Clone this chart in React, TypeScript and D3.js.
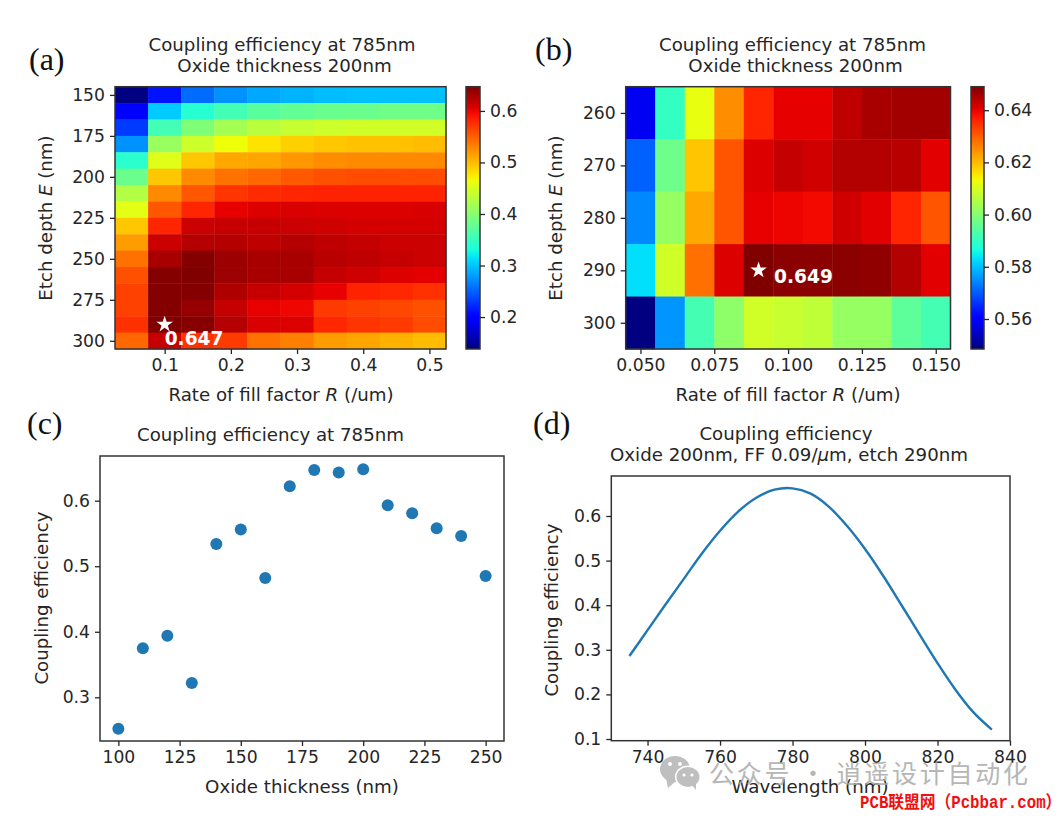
import * as d3 from "d3";
import { useRef, useEffect } from "react";

// (a) coarse sweep
const fillA = [0.05, 0.1, 0.15, 0.2, 0.25, 0.3, 0.35, 0.4, 0.45, 0.5];
const etchA = [150, 160, 170, 180, 190, 200, 210, 220, 230, 240, 250, 260, 270, 280, 290, 300];
const effA = [
  [0.138, 0.21, 0.255, 0.275, 0.286, 0.291, 0.296, 0.298, 0.298, 0.298],
  [0.194, 0.303, 0.339, 0.357, 0.372, 0.377, 0.382, 0.382, 0.385, 0.385],
  [0.23, 0.357, 0.395, 0.418, 0.431, 0.438, 0.443, 0.445, 0.445, 0.445],
  [0.275, 0.41, 0.443, 0.464, 0.479, 0.489, 0.494, 0.497, 0.497, 0.5],
  [0.342, 0.454, 0.494, 0.51, 0.512, 0.52, 0.525, 0.527, 0.527, 0.527],
  [0.382, 0.494, 0.527, 0.54, 0.545, 0.553, 0.558, 0.56, 0.56, 0.56],
  [0.426, 0.527, 0.555, 0.573, 0.578, 0.581, 0.583, 0.583, 0.583, 0.583],
  [0.456, 0.555, 0.581, 0.601, 0.606, 0.608, 0.606, 0.606, 0.606, 0.608],
  [0.494, 0.581, 0.614, 0.616, 0.616, 0.614, 0.612, 0.61, 0.61, 0.61],
  [0.517, 0.614, 0.624, 0.624, 0.619, 0.624, 0.619, 0.617, 0.614, 0.614],
  [0.54, 0.629, 0.645, 0.634, 0.629, 0.629, 0.622, 0.619, 0.616, 0.614],
  [0.558, 0.645, 0.647, 0.634, 0.629, 0.629, 0.617, 0.612, 0.606, 0.603],
  [0.566, 0.645, 0.645, 0.626, 0.616, 0.61, 0.601, 0.583, 0.58, 0.575],
  [0.566, 0.645, 0.637, 0.617, 0.601, 0.598, 0.57, 0.566, 0.563, 0.558],
  [0.575, 0.647, 0.644, 0.624, 0.608, 0.606, 0.58, 0.573, 0.57, 0.56],
  [0.545, 0.616, 0.575, 0.57, 0.54, 0.533, 0.517, 0.512, 0.506, 0.5],
];

// (b) fine sweep
const fillB = [0.05, 0.06, 0.07, 0.08, 0.09, 0.1, 0.11, 0.12, 0.13, 0.14, 0.15];
const etchB = [260, 270, 280, 290, 300];
const effB = [
  [0.5585, 0.59, 0.612, 0.625, 0.636, 0.64, 0.64, 0.6435, 0.6455, 0.646, 0.646],
  [0.5706, 0.597, 0.619, 0.631, 0.641, 0.643, 0.642, 0.6445, 0.6445, 0.644, 0.6405],
  [0.5746, 0.602, 0.622, 0.631, 0.64, 0.6395, 0.639, 0.642, 0.6405, 0.636, 0.631],
  [0.583, 0.609, 0.628, 0.641, 0.649, 0.648, 0.648, 0.648, 0.6475, 0.6445, 0.6405],
  [0.5485, 0.5757, 0.592, 0.601, 0.609, 0.608, 0.607, 0.602, 0.602, 0.595, 0.592],
];

// (c) oxide sweep
const oxide = [100, 110, 120, 130, 140, 150, 160, 170, 180, 190, 200, 210, 220, 230, 240, 250];
const effOxide = [0.252, 0.375, 0.394, 0.322, 0.534, 0.556, 0.482, 0.622, 0.647, 0.643, 0.648, 0.593, 0.581, 0.558, 0.546, 0.485];

// (d) spectrum
const wavelength = [735, 740, 745, 750, 755, 760, 765, 770, 775, 780, 785, 790, 795, 800, 805, 810, 815, 820, 825, 830, 835];
const effSpectrum = [0.286, 0.344, 0.402, 0.459, 0.516, 0.567, 0.61, 0.641, 0.659, 0.662, 0.65, 0.621, 0.578, 0.526, 0.466, 0.401, 0.335, 0.27, 0.21, 0.159, 0.121];

const FONT = "'DejaVu Sans', sans-serif";
const FS = 18.2;
const TICK_FS = 17.2;
const INK = "#262626";

// matplotlib jet
const jetR = d3.scaleLinear([0, 0.35, 0.66, 0.89, 1], [0, 0, 1, 1, 0.5]).clamp(true);
const jetG = d3.scaleLinear([0, 0.125, 0.375, 0.64, 0.91, 1], [0, 0, 1, 1, 0, 0]).clamp(true);
const jetB = d3.scaleLinear([0, 0.11, 0.34, 0.65, 1], [0.5, 1, 1, 0, 0]).clamp(true);
const jet = (t: number) =>
  d3.rgb(jetR(t) * 255, jetG(t) * 255, jetB(t) * 255).formatHex();

type AxisProps = {
  scale: any;
  orient: "left" | "bottom" | "right";
  at: [number, number];
  ticks: number[];
  format: (v: number) => string;
};

const Axis = ({ scale, orient, at, ticks, format }: AxisProps) => {
  const ref = useRef<SVGGElement>(null);
  useEffect(() => {
    const make = orient === "left" ? d3.axisLeft : orient === "bottom" ? d3.axisBottom : d3.axisRight;
    const g = d3.select(ref.current!);
    g.call(make(scale).tickValues(ticks).tickFormat(format as any).tickSize(5).tickPadding(5).tickSizeOuter(0) as any);
    g.select(".domain").remove();
    g.selectAll("line").attr("stroke", INK).attr("stroke-width", 1.3);
    g.selectAll("text").attr("fill", INK).attr("font-size", TICK_FS).attr("font-family", FONT);
  }, []);
  return <g ref={ref} transform={`translate(${at[0]},${at[1]})`} />;
};

const Frame = ({ x0, x1, y0, y1 }: { x0: number; x1: number; y0: number; y1: number }) => (
  <rect x={x0} y={y0} width={x1 - x0} height={y1 - y0} fill="none" stroke="#333" strokeWidth={1.5} />
);

const Label = ({ x, y, children, rotate, ...rest }: any) => (
  <text
    x={x}
    y={y}
    transform={rotate ? `rotate(-90 ${x} ${y})` : undefined}
    textAnchor="middle"
    fontFamily={FONT}
    fontSize={FS}
    fill={INK}
    {...rest}
  >
    {children}
  </text>
);

type HeatProps = {
  cols: number[];
  rows: number[];
  cells: number[][];
  box: [number, number, number, number];
  xDomain: [number, number];
  yDomain: [number, number];
  xTicks: number[];
  xFormat: (v: number) => string;
  yTicks: number[];
  bar: [number, number];
  barTicks: number[];
  barFormat: (v: number) => string;
  barDomain: [number, number];
  gradId: string;
  best: [number, number];
  bestText: string;
  bestOffset: [number, number];
};

const Heat = (p: HeatProps) => {
  const [x0, x1, y0, y1] = p.box;
  const bandX = d3.scaleBand<number>().domain(p.cols).range([x0, x1]);
  const bandY = d3.scaleBand<number>().domain(p.rows).range([y0, y1]);
  const x = d3.scaleLinear(p.xDomain, [x0, x1]);
  const y = d3.scaleLinear(p.yDomain, [y0, y1]);
  const norm = d3.scaleLinear(p.barDomain, [0, 1]);
  const barY = d3.scaleLinear(p.barDomain, [y1, y0]);
  const star = d3.symbol(d3.symbolStar, 85)();
  return (
    <g>
      {p.cells.map((row, i) =>
        row.map((v, j) => (
          <rect
            key={`${i}-${j}`}
            x={bandX(p.cols[j])}
            y={bandY(p.rows[i])}
            width={bandX.bandwidth() + 0.4}
            height={bandY.bandwidth() + 0.4}
            fill={jet(norm(v))}
          />
        ))
      )}
      <Frame x0={x0} x1={x1} y0={y0} y1={y1} />
      <Axis scale={x} orient="bottom" at={[0, y1]} ticks={p.xTicks} format={p.xFormat} />
      <Axis scale={y} orient="left" at={[x0, 0]} ticks={p.yTicks} format={(v) => String(v)} />
      <path d={star || ""} fill="white" transform={`translate(${x(p.best[0])},${y(p.best[1])})`} />
      <text
        x={x(p.best[0]) + p.bestOffset[0]}
        y={y(p.best[1]) + p.bestOffset[1]}
        fontFamily={FONT}
        fontSize={18.6}
        fontWeight="bold"
        fill="white"
      >
        {p.bestText}
      </text>
      <defs>
        <linearGradient id={p.gradId} x1="0" x2="0" y1="1" y2="0">
          {d3.range(0, 1.001, 0.02).map((t) => (
            <stop key={t} offset={t} stopColor={jet(t)} />
          ))}
        </linearGradient>
      </defs>
      <rect x={p.bar[0]} y={y0} width={p.bar[1] - p.bar[0]} height={y1 - y0} fill={`url(#${p.gradId})`} />
      <Frame x0={p.bar[0]} x1={p.bar[1]} y0={y0} y1={y1} />
      <Axis scale={barY} orient="right" at={[p.bar[1], 0]} ticks={p.barTicks} format={p.barFormat} />
    </g>
  );
};

const panelLabelStyle = { fontFamily: "'Liberation Serif', serif", fontSize: 32, fill: "#111" };

const Scatter = () => {
  const x = d3.scaleLinear([92.5, 257.5], [100, 504]);
  const y = d3.scaleLinear([0.3, 0.6], [697.3, 500.7]);
  return (
    <g>
      {oxide.map((o, i) => (
        <circle key={o} cx={x(o)} cy={y(effOxide[i])} r={6} fill="#1f77b4" />
      ))}
      <Frame x0={100} x1={504} y0={456} y1={741} />
      <Axis scale={x} orient="bottom" at={[0, 741]} ticks={[100, 125, 150, 175, 200, 225, 250]} format={(v) => String(v)} />
      <Axis scale={y} orient="left" at={[100, 0]} ticks={[0.3, 0.4, 0.5, 0.6]} format={d3.format(".1f")} />
    </g>
  );
};

const Spectrum = () => {
  const x = d3.scaleLinear([730, 840], [611.3, 1010]);
  const y = d3.scaleLinear([0.1, 0.6], [739, 516]);
  const line = d3
    .line<number>()
    .x((w) => x(w))
    .y((_, i) => y(effSpectrum[i]))
    .curve(d3.curveCatmullRom);
  return (
    <g>
      <path d={line(wavelength) || ""} fill="none" stroke="#1f77b4" strokeWidth={2.4} />
      <Frame x0={611.3} x1={1010} y0={476} y1={740.7} />
      <Axis scale={x} orient="bottom" at={[0, 740.7]} ticks={[740, 760, 780, 800, 820, 840]} format={(v) => String(v)} />
      <Axis scale={y} orient="left" at={[611.3, 0]} ticks={[0.1, 0.2, 0.3, 0.4, 0.5, 0.6]} format={d3.format(".1f")} />
    </g>
  );
};

const Watermark = () => (
  <g>
    <g opacity={0.85}>
      <ellipse cx={675} cy={769} rx={15} ry={13} fill="#b4b4b4" />
      <path d="M666 778 L668 788 L676 781 Z" fill="#b4b4b4" />
      <ellipse cx={688} cy={777} rx={13} ry={11.5} fill="white" />
      <ellipse cx={688} cy={777} rx={11.5} ry={10} fill="#b4b4b4" />
      <path d="M692 785 L696 790 L696 783 Z" fill="#b4b4b4" />
      <circle cx={670} cy={764} r={2} fill="white" />
      <circle cx={680} cy={764} r={2} fill="white" />
      <circle cx={684} cy={775} r={1.6} fill="white" />
      <circle cx={692} cy={775} r={1.6} fill="white" />
    </g>
    <text x={709} y={783} fontFamily="'Noto Sans CJK SC'" fontSize={25} fill="#aaa" opacity={0.85} textLength={319}>
      公众号 · 逍遥设计自动化
    </text>
    <text
      transform="translate(860 808) scale(0.9 1)"
      fontFamily="'Liberation Mono','Noto Sans CJK SC'"
      fontSize={17.5}
      fontWeight="bold"
      fill="#f01010"
    >
      PCB联盟网（Pcbbar.com）
    </text>
  </g>
);

export default function App() {
  return (
    <svg width={1062} height={816} style={{ position: "absolute", left: 0, top: 0, background: "white" }}>
      <text x={29} y={70} {...panelLabelStyle}>(a)</text>
      <text x={535} y={60} {...panelLabelStyle}>(b)</text>
      <text x={27} y={434} {...panelLabelStyle}>(c)</text>
      <text x={533} y={434} {...panelLabelStyle}>(d)</text>

      <Label x={282} y={51}>Coupling efficiency at 785nm</Label>
      <Label x={284.5} y={72}>Oxide thickness 200nm</Label>
      <Heat
        cols={fillA}
        rows={etchA}
        cells={effA}
        box={[115, 446, 86.7, 349]}
        xDomain={[0.025, 0.525]}
        yDomain={[145, 305]}
        xTicks={[0.1, 0.2, 0.3, 0.4, 0.5]}
        xFormat={d3.format(".1f")}
        yTicks={[150, 175, 200, 225, 250, 275, 300]}
        bar={[466, 480]}
        barTicks={[0.2, 0.3, 0.4, 0.5, 0.6]}
        barFormat={d3.format(".1f")}
        barDomain={[0.138, 0.647]}
        gradId="barA"
        best={[0.1, 290]}
        bestText="0.647"
        bestOffset={[0, 21]}
      />
      <Label x={281} y={401}>Rate of fill factor <tspan fontStyle="italic">R</tspan> (/um)</Label>
      <Label x={52} y={218} rotate>Etch depth <tspan fontStyle="italic">E</tspan> (nm)</Label>

      <Label x={792.5} y={51}>Coupling efficiency at 785nm</Label>
      <Label x={795.5} y={72}>Oxide thickness 200nm</Label>
      <Heat
        cols={fillB}
        rows={etchB}
        cells={effB}
        box={[625.7, 950.5, 86.7, 349]}
        xDomain={[0.045, 0.155]}
        yDomain={[255, 305]}
        xTicks={[0.05, 0.075, 0.1, 0.125, 0.15]}
        xFormat={d3.format(".3f")}
        yTicks={[260, 270, 280, 290, 300]}
        bar={[971, 984]}
        barTicks={[0.56, 0.58, 0.6, 0.62, 0.64]}
        barFormat={d3.format(".2f")}
        barDomain={[0.5485, 0.649]}
        gradId="barB"
        best={[0.09, 290]}
        bestText="0.649"
        bestOffset={[15.5, 12.5]}
      />
      <Label x={788} y={401}>Rate of fill factor <tspan fontStyle="italic">R</tspan> (/um)</Label>
      <Label x={562} y={218} rotate>Etch depth <tspan fontStyle="italic">E</tspan> (nm)</Label>

      <Label x={270.5} y={441}>Coupling efficiency at 785nm</Label>
      <Scatter />
      <Label x={302} y={793}>Oxide thickness (nm)</Label>
      <Label x={48} y={598} rotate>Coupling efficiency</Label>

      <Label x={786} y={440}>Coupling efficiency</Label>
      <Label x={789} y={461}>Oxide 200nm, FF 0.09/<tspan fontStyle="italic">μ</tspan>m, etch 290nm</Label>
      <Spectrum />
      <Label x={810} y={793}>Wavelength (nm)</Label>
      <Label x={558} y={610} rotate>Coupling efficiency</Label>

      <Watermark />
    </svg>
  );
}
